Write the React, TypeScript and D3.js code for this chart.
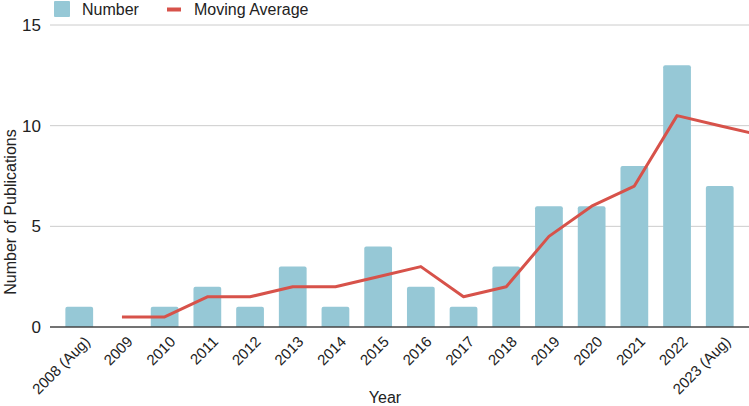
import * as d3 from 'd3'
import { useEffect, useRef } from 'react'

const years = ['2008 (Aug)', '2009', '2010', '2011', '2012', '2013', '2014', '2015', '2016', '2017', '2018', '2019', '2020', '2021', '2022', '2023 (Aug)']
const counts = [1, 0, 1, 2, 1, 3, 1, 4, 2, 1, 3, 6, 6, 8, 13, 7]
// moving average, first year has none; last entry runs past the chart edge
const movingAvg: (number | null)[] = [null, 0.5, 0.5, 1.5, 1.5, 2, 2, 2.5, 3, 1.5, 2, 4.5, 6, 7, 10.5, 10, 9.5]
const yTicks = [0, 5, 10, 15]

const W = 749
const H = 406
const margin = { top: 25, right: 0, bottom: 79, left: 50 }
const BAR = '#96c8d6'
const LINE = '#d7524a'
const FONT = 'Liberation Sans, Arial, sans-serif'

const App = () => {
    const svgRef = useRef<SVGSVGElement | null>(null)

    useEffect(() => {
        document.body.style.margin = '0'
        const svg = d3.select(svgRef.current)
        svg.selectAll('*').remove()

        const x = d3.scaleBand<string>()
            .domain(years)
            .range([margin.left, W - margin.right])
            .paddingInner(0.35)
            .paddingOuter(0.36)
        const y = d3.scaleLinear().domain([0, 15]).range([H - margin.bottom, margin.top])

        // grid
        svg.append('g')
            .selectAll('line')
            .data(yTicks.filter(t => t > 0))
            .enter()
            .append('line')
            .attr('x1', margin.left)
            .attr('x2', W)
            .attr('y1', d => y(d))
            .attr('y2', d => y(d))
            .attr('stroke', '#cccccc')
            .attr('stroke-width', 1)

        svg.append('g')
            .selectAll('text')
            .data(yTicks)
            .enter()
            .append('text')
            .attr('x', 41)
            .attr('y', d => y(d))
            .attr('dy', '0.35em')
            .attr('text-anchor', 'end')
            .attr('font-family', FONT)
            .attr('font-size', 17)
            .attr('fill', '#222')
            .text(d => d)

        // bars, rounded top
        const r = 2
        const bw = x.bandwidth()
        svg.append('g')
            .selectAll('path')
            .data(counts.map((v, i) => ({ v, label: years[i] })).filter(d => d.v > 0))
            .enter()
            .append('path')
            .attr('fill', BAR)
            .attr('d', d => {
                const x0 = x(d.label) as number
                const y0 = y(d.v)
                const yb = y(0)
                return `M${x0},${yb}V${y0 + r}Q${x0},${y0} ${x0 + r},${y0}H${x0 + bw - r}Q${x0 + bw},${y0} ${x0 + bw},${y0 + r}V${yb}Z`
            })

        // baseline
        svg.append('line')
            .attr('x1', margin.left)
            .attr('x2', W)
            .attr('y1', y(0))
            .attr('y2', y(0))
            .attr('stroke', '#444')
            .attr('stroke-width', 1.5)

        // moving average line
        const step = x.step()
        const cx = (i: number) => (x(years[0]) as number) + bw / 2 + i * step
        const line = d3.line<number | null>()
            .defined(d => d !== null)
            .x((_, i) => cx(i))
            .y(d => y(d as number))
        svg.append('path')
            .datum(movingAvg)
            .attr('d', line)
            .attr('fill', 'none')
            .attr('stroke', LINE)
            .attr('stroke-width', 3)
            .attr('stroke-linejoin', 'round')

        // x labels
        svg.append('g')
            .selectAll('text')
            .data(years)
            .enter()
            .append('text')
            .attr('transform', d => `translate(${(x(d) as number) + bw / 2 + 8},${y(0) + 12}) rotate(-45)`)
            .attr('text-anchor', 'end')
            .attr('dy', '0.35em')
            .attr('font-family', FONT)
            .attr('font-size', 15)
            .attr('fill', '#222')
            .text(d => d)

        svg.append('text')
            .attr('x', 385)
            .attr('y', 403)
            .attr('text-anchor', 'middle')
            .attr('font-family', FONT)
            .attr('font-size', 16)
            .attr('fill', '#222')
            .text('Year')

        svg.append('text')
            .attr('transform', `translate(16,212) rotate(-90)`)
            .attr('text-anchor', 'middle')
            .attr('font-family', FONT)
            .attr('font-size', 16)
            .attr('fill', '#222')
            .text('Number of Publications')

        // legend
        const lg = svg.append('g')
        lg.append('rect').attr('x', 54).attr('y', 1).attr('width', 16).attr('height', 16).attr('rx', 1).attr('fill', BAR)
        lg.append('text').attr('x', 82).attr('y', 9).attr('dy', '0.35em')
            .attr('font-family', FONT).attr('font-size', 16).attr('fill', '#222').text('Number')
        lg.append('rect').attr('x', 167).attr('y', 7.5).attr('width', 14).attr('height', 4).attr('fill', LINE)
        lg.append('text').attr('x', 194).attr('y', 9).attr('dy', '0.35em')
            .attr('font-family', FONT).attr('font-size', 16).attr('fill', '#222').text('Moving Average')
    }, [])

    return <svg ref={svgRef} width={W} height={H} style={{ display: 'block', background: '#fff' }} />
}

export default App
